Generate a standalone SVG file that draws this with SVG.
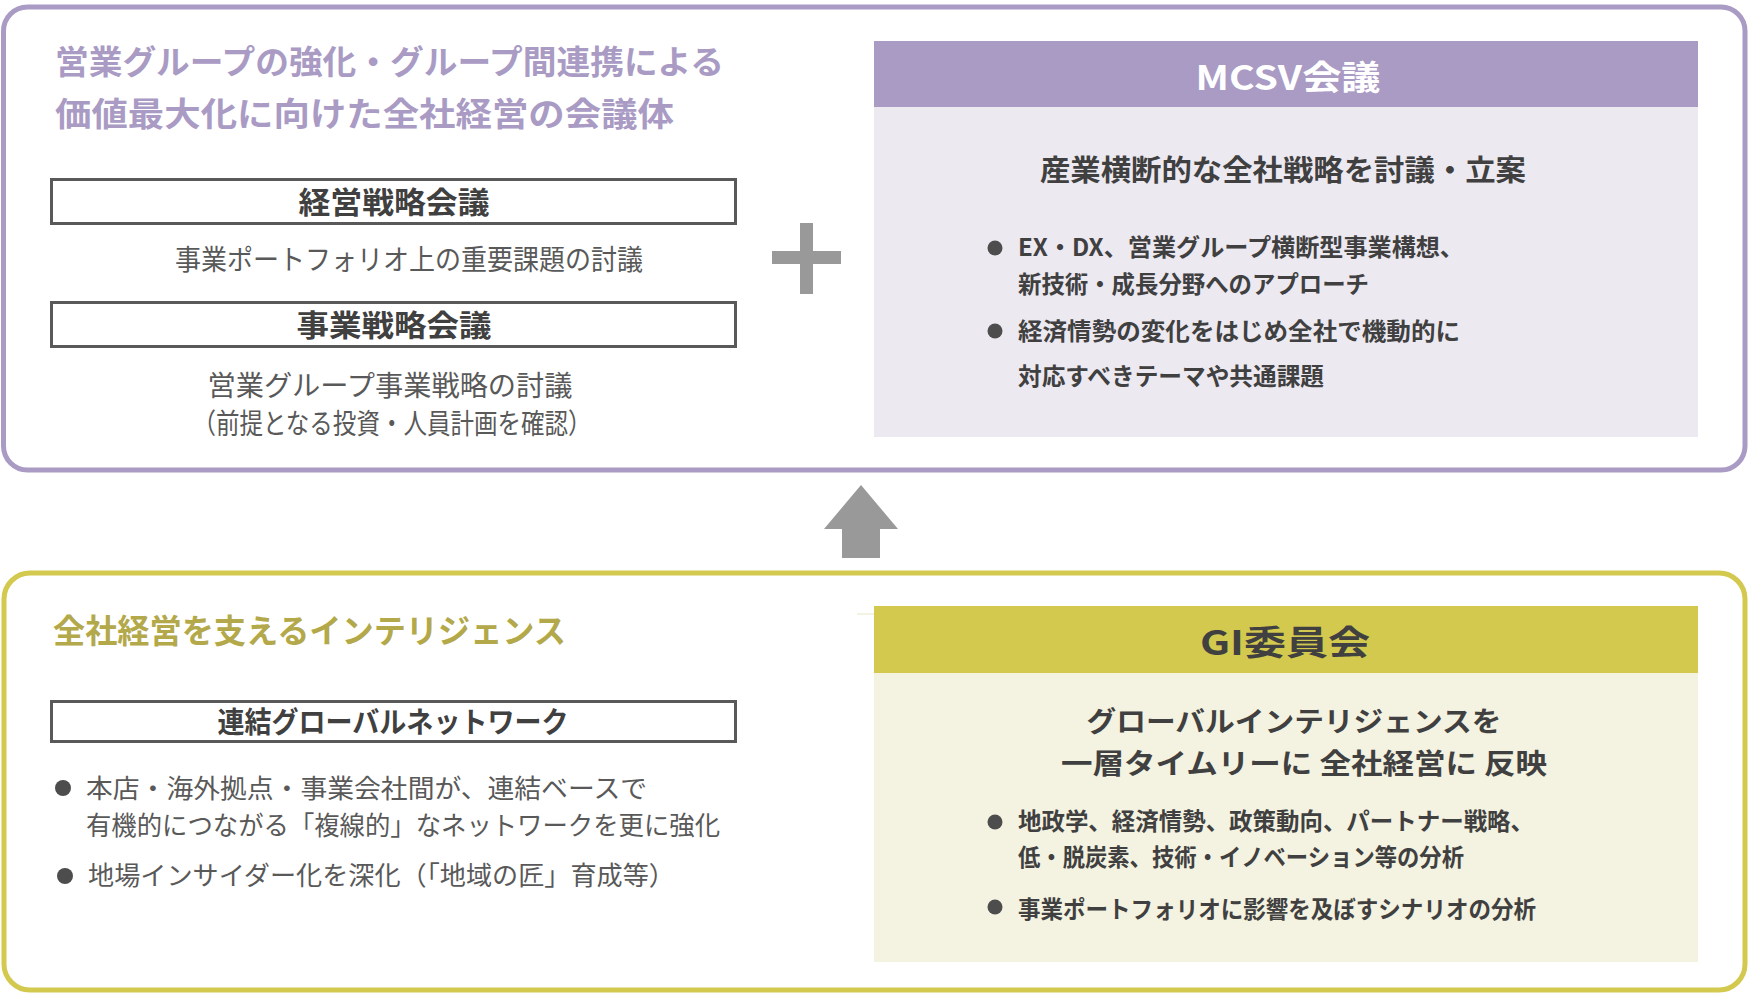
<svg xmlns="http://www.w3.org/2000/svg" width="1749" height="994" viewBox="0 0 1749 994">
  <style>
    text { font-family: "Noto Sans CJK JP", "Noto Sans", sans-serif; }
    .b { font-weight: 700; }
    .n { font-weight: 400; }
    .dk { fill: #404040; }
    .md { fill: #595959; }
    .lav { fill: #A99BC4; }
    .oli { fill: #B3A84A; }
    .frame { fill: #FFFFFF; stroke: #595959; stroke-width: 3; }
    .bul { fill: #4D4D4D; }
    .gray { fill: #999999; }
  </style>
  <rect x="0" y="0" width="1749" height="994" fill="#FFFFFF"/>

  <g id="top-panel">
    <rect x="3.5" y="7" width="1741.5" height="463" rx="24" ry="24" fill="#FFFFFF" stroke="#A99BC4" stroke-width="5"/>
    <text class="b lav" x="55" y="74" font-size="33" textLength="669" lengthAdjust="spacingAndGlyphs">営業グループの強化・グループ間連携による</text>
    <text class="b lav" x="55" y="126" font-size="33" textLength="619" lengthAdjust="spacingAndGlyphs">価値最大化に向けた全社経営の会議体</text>
  </g>

  <g id="keiei-senryaku">
    <rect class="frame" x="51.5" y="179.5" width="684" height="44"/>
    <text class="b dk" x="394" y="213" font-size="30" text-anchor="middle" textLength="191" lengthAdjust="spacingAndGlyphs">経営戦略会議</text>
    <text class="n md" x="409" y="270" font-size="28" text-anchor="middle" textLength="468" lengthAdjust="spacingAndGlyphs">事業ポートフォリオ上の重要課題の討議</text>
  </g>

  <g id="jigyo-senryaku">
    <rect class="frame" x="51.5" y="302.5" width="684" height="44"/>
    <text class="b dk" x="394" y="336" font-size="30" text-anchor="middle" textLength="195" lengthAdjust="spacingAndGlyphs">事業戦略会議</text>
    <text class="n md" x="390" y="396" font-size="28" text-anchor="middle" textLength="365" lengthAdjust="spacingAndGlyphs">営業グループ事業戦略の討議</text>
    <text class="n md" x="392" y="434" font-size="28" text-anchor="middle" textLength="399" lengthAdjust="spacingAndGlyphs">（前提となる投資・人員計画を確認）</text>
  </g>

  <g id="plus">
    <rect class="gray" x="800" y="223" width="13" height="71"/>
    <rect class="gray" x="772" y="251" width="69" height="13"/>
  </g>

  <g id="mcsv">
    <rect x="874" y="41" width="824" height="66" fill="#A99BC4"/>
    <rect x="874" y="107" width="824" height="330" fill="#ECE9F1"/>
    <text class="b" x="1288" y="90" font-size="34" fill="#FFFFFF" text-anchor="middle" textLength="185" lengthAdjust="spacingAndGlyphs">MCSV会議</text>
    <text class="b dk" x="1283" y="181" font-size="29" text-anchor="middle" textLength="486" lengthAdjust="spacingAndGlyphs">産業横断的な全社戦略を討議・立案</text>
    <circle class="bul" cx="995" cy="248" r="7.5"/>
    <text class="b dk" x="1018" y="256" font-size="24" textLength="446" lengthAdjust="spacingAndGlyphs">EX・DX、営業グループ横断型事業構想、</text>
    <text class="b dk" x="1018" y="293" font-size="24" textLength="351" lengthAdjust="spacingAndGlyphs">新技術・成長分野へのアプローチ</text>
    <circle class="bul" cx="995" cy="331" r="7.5"/>
    <text class="b dk" x="1018" y="340" font-size="24" textLength="442" lengthAdjust="spacingAndGlyphs">経済情勢の変化をはじめ全社で機動的に</text>
    <text class="b dk" x="1018" y="385" font-size="24" textLength="306" lengthAdjust="spacingAndGlyphs">対応すべきテーマや共通課題</text>
  </g>

  <g id="connectors">
    <path class="gray" d="M861 485 L898 529 L880 529 L880 558 L842 558 L842 529 L824 529 Z"/>
  </g>

  <g id="bottom-panel">
    <rect x="4" y="573" width="1741" height="417" rx="26" ry="26" fill="#FFFFFF" stroke="#D4C94F" stroke-width="5"/>
    <text class="b oli" x="53" y="643" font-size="33" textLength="513" lengthAdjust="spacingAndGlyphs">全社経営を支えるインテリジェンス</text>
  </g>

  <g id="renketsu-network">
    <rect class="frame" x="51.5" y="701.5" width="684" height="40"/>
    <text class="b dk" x="393" y="733" font-size="29" text-anchor="middle" textLength="351" lengthAdjust="spacingAndGlyphs">連結グローバルネットワーク</text>
    <circle class="bul" cx="63" cy="788" r="8"/>
    <text class="n md" x="86" y="798" font-size="26" textLength="561" lengthAdjust="spacingAndGlyphs">本店・海外拠点・事業会社間が、連結ベースで</text>
    <text class="n md" x="86" y="835" font-size="26" textLength="634" lengthAdjust="spacingAndGlyphs">有機的につながる「複線的」なネットワークを更に強化</text>
    <circle class="bul" cx="65" cy="876" r="8"/>
    <text class="n md" x="88" y="885" font-size="26" textLength="587" lengthAdjust="spacingAndGlyphs">地場インサイダー化を深化（「地域の匠」育成等）</text>
  </g>

  <g id="gi">
    <line x1="857" y1="614" x2="875" y2="614" stroke="#F4F2E0" stroke-width="2"/>
    <rect x="874" y="606" width="824" height="67" fill="#D4C94F"/>
    <rect x="874" y="673" width="824" height="289" fill="#F4F2E0"/>
    <text class="b dk" x="1285" y="655" font-size="34" text-anchor="middle" textLength="170" lengthAdjust="spacingAndGlyphs">GI委員会</text>
    <text class="b dk" x="1294" y="732" font-size="28" text-anchor="middle" textLength="415" lengthAdjust="spacingAndGlyphs">グローバルインテリジェンスを</text>
    <text class="b dk" x="1304" y="774" font-size="28" text-anchor="middle" textLength="486" lengthAdjust="spacingAndGlyphs">一層タイムリーに 全社経営に 反映</text>
    <circle class="bul" cx="995" cy="822" r="7.5"/>
    <text class="b dk" x="1018" y="830" font-size="24" textLength="516" lengthAdjust="spacingAndGlyphs">地政学、経済情勢、政策動向、パートナー戦略、</text>
    <text class="b dk" x="1018" y="866" font-size="24" textLength="446" lengthAdjust="spacingAndGlyphs">低・脱炭素、技術・イノベーション等の分析</text>
    <circle class="bul" cx="995" cy="907" r="7.5"/>
    <text class="b dk" x="1018" y="918" font-size="24" textLength="518" lengthAdjust="spacingAndGlyphs">事業ポートフォリオに影響を及ぼすシナリオの分析</text>
  </g>
</svg>
